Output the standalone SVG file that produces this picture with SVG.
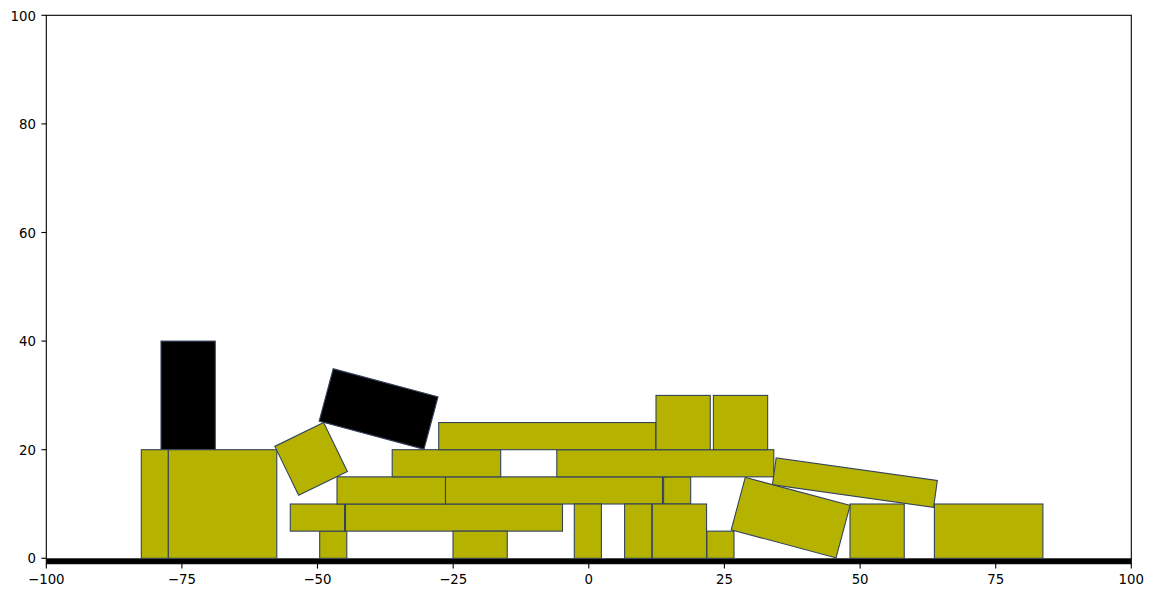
<svg xmlns="http://www.w3.org/2000/svg" width="1154" height="597" viewBox="0 0 1154 597">
<style>
.blk{fill:#b5b300;stroke:#34435a;stroke-width:1.1}
.blkd{fill:#000000;stroke:#34435a;stroke-width:1.1}
.tk{stroke:#000;stroke-width:1.1}
.lbl{font-family:"DejaVu Sans",sans-serif;font-size:13.3px;fill:#000}
</style>
<rect x="0" y="0" width="1154" height="597" fill="#ffffff"/>
<g id="ground"><rect x="46.3" y="558.3" width="1085" height="5.4" fill="#000"/></g>
<g id="blocks">
<g id="b1"><rect class="blkd" x="161" y="341.1" width="54.25" height="108.6"/></g>
<g id="b2"><rect class="blk" x="141.3" y="449.7" width="27.1" height="108.6"/></g>
<g id="b3"><rect class="blk" x="168.3" y="449.7" width="108.5" height="108.6"/></g>
<g id="b4"><rect class="blk" x="319.7" y="531.15" width="27.1" height="27.15"/></g>
<g id="b5"><rect class="blk" x="290.3" y="504" width="54.25" height="27.15"/></g>
<g id="b6"><rect class="blk" x="345.5" y="504" width="217" height="27.15"/></g>
<g id="b7"><rect class="blk" x="337" y="476.85" width="108.5" height="27.15"/></g>
<g id="b8"><rect class="blk" x="445.5" y="476.85" width="217" height="27.15"/></g>
<g id="b9"><rect class="blk" x="663.6" y="476.85" width="27.1" height="27.15"/></g>
<g id="b10"><rect class="blk" x="392.2" y="449.7" width="108.5" height="27.15"/></g>
<g id="b11"><rect class="blk" x="556.8" y="449.7" width="217" height="27.15"/></g>
<g id="b12"><rect class="blk" x="438.7" y="422.55" width="217" height="27.15"/></g>
<g id="b13"><rect class="blk" x="656" y="395.4" width="54.25" height="54.3"/></g>
<g id="b14"><rect class="blk" x="713.4" y="395.4" width="54.25" height="54.3"/></g>
<g id="b15"><rect class="blk" x="453" y="531.15" width="54.25" height="27.15"/></g>
<g id="b16"><rect class="blk" x="574.3" y="504" width="27.1" height="54.3"/></g>
<g id="b17"><rect class="blk" x="624.6" y="504" width="27.1" height="54.3"/></g>
<g id="b18"><rect class="blk" x="652.3" y="504" width="54.25" height="54.3"/></g>
<g id="b19"><rect class="blk" x="706.9" y="531.15" width="27.1" height="27.15"/></g>
<g id="b20"><rect class="blk" x="850" y="504" width="54.25" height="54.3"/></g>
<g id="b21"><rect class="blk" x="934.4" y="504" width="108.5" height="54.3"/></g>
<g id="r1" transform="translate(311.1,458.9) rotate(-26)"><rect class="blk" x="-27.1" y="-27.15" width="54.25" height="54.3"/></g>
<g id="r2" transform="translate(378.6,409) rotate(15)"><rect class="blkd" x="-54.25" y="-27.15" width="108.5" height="54.3"/></g>
<g id="r3" transform="translate(854.9,482.7) rotate(8)"><rect class="blk" x="-81.4" y="-13.6" width="162.75" height="27.15"/></g>
<g id="r4" transform="translate(790.65,517.6) rotate(15)"><rect class="blk" x="-54.25" y="-27.15" width="108.5" height="54.3"/></g>
</g>
<g id="connectors"></g>
<g id="axes">
<rect x="46.3" y="15.3" width="1085" height="548.4" fill="none" stroke="#000" stroke-width="1.1"/>
<g class="tk">
<line x1="46.3" y1="563.7" x2="46.3" y2="568.6"/>
<line x1="181.9" y1="563.7" x2="181.9" y2="568.6"/>
<line x1="317.5" y1="563.7" x2="317.5" y2="568.6"/>
<line x1="453.2" y1="563.7" x2="453.2" y2="568.6"/>
<line x1="588.8" y1="563.7" x2="588.8" y2="568.6"/>
<line x1="724.4" y1="563.7" x2="724.4" y2="568.6"/>
<line x1="860.1" y1="563.7" x2="860.1" y2="568.6"/>
<line x1="995.7" y1="563.7" x2="995.7" y2="568.6"/>
<line x1="1131.3" y1="563.7" x2="1131.3" y2="568.6"/>
<line x1="41.4" y1="558.3" x2="46.3" y2="558.3"/>
<line x1="41.4" y1="449.7" x2="46.3" y2="449.7"/>
<line x1="41.4" y1="341.1" x2="46.3" y2="341.1"/>
<line x1="41.4" y1="232.5" x2="46.3" y2="232.5"/>
<line x1="41.4" y1="123.9" x2="46.3" y2="123.9"/>
<line x1="41.4" y1="15.3" x2="46.3" y2="15.3"/>
</g>
<g class="lbl" text-anchor="middle">
<text x="46.3" y="584.2">−100</text>
<text x="181.9" y="584.2">−75</text>
<text x="317.5" y="584.2">−50</text>
<text x="453.2" y="584.2">−25</text>
<text x="588.8" y="584.2">0</text>
<text x="724.4" y="584.2">25</text>
<text x="860.1" y="584.2">50</text>
<text x="995.7" y="584.2">75</text>
<text x="1131.3" y="584.2">100</text>
</g>
<g class="lbl" text-anchor="end">
<text x="36" y="563.3">0</text>
<text x="36" y="454.7">20</text>
<text x="36" y="346.1">40</text>
<text x="36" y="237.5">60</text>
<text x="36" y="128.9">80</text>
<text x="36" y="20.5">100</text>
</g>
</g>
</svg>
